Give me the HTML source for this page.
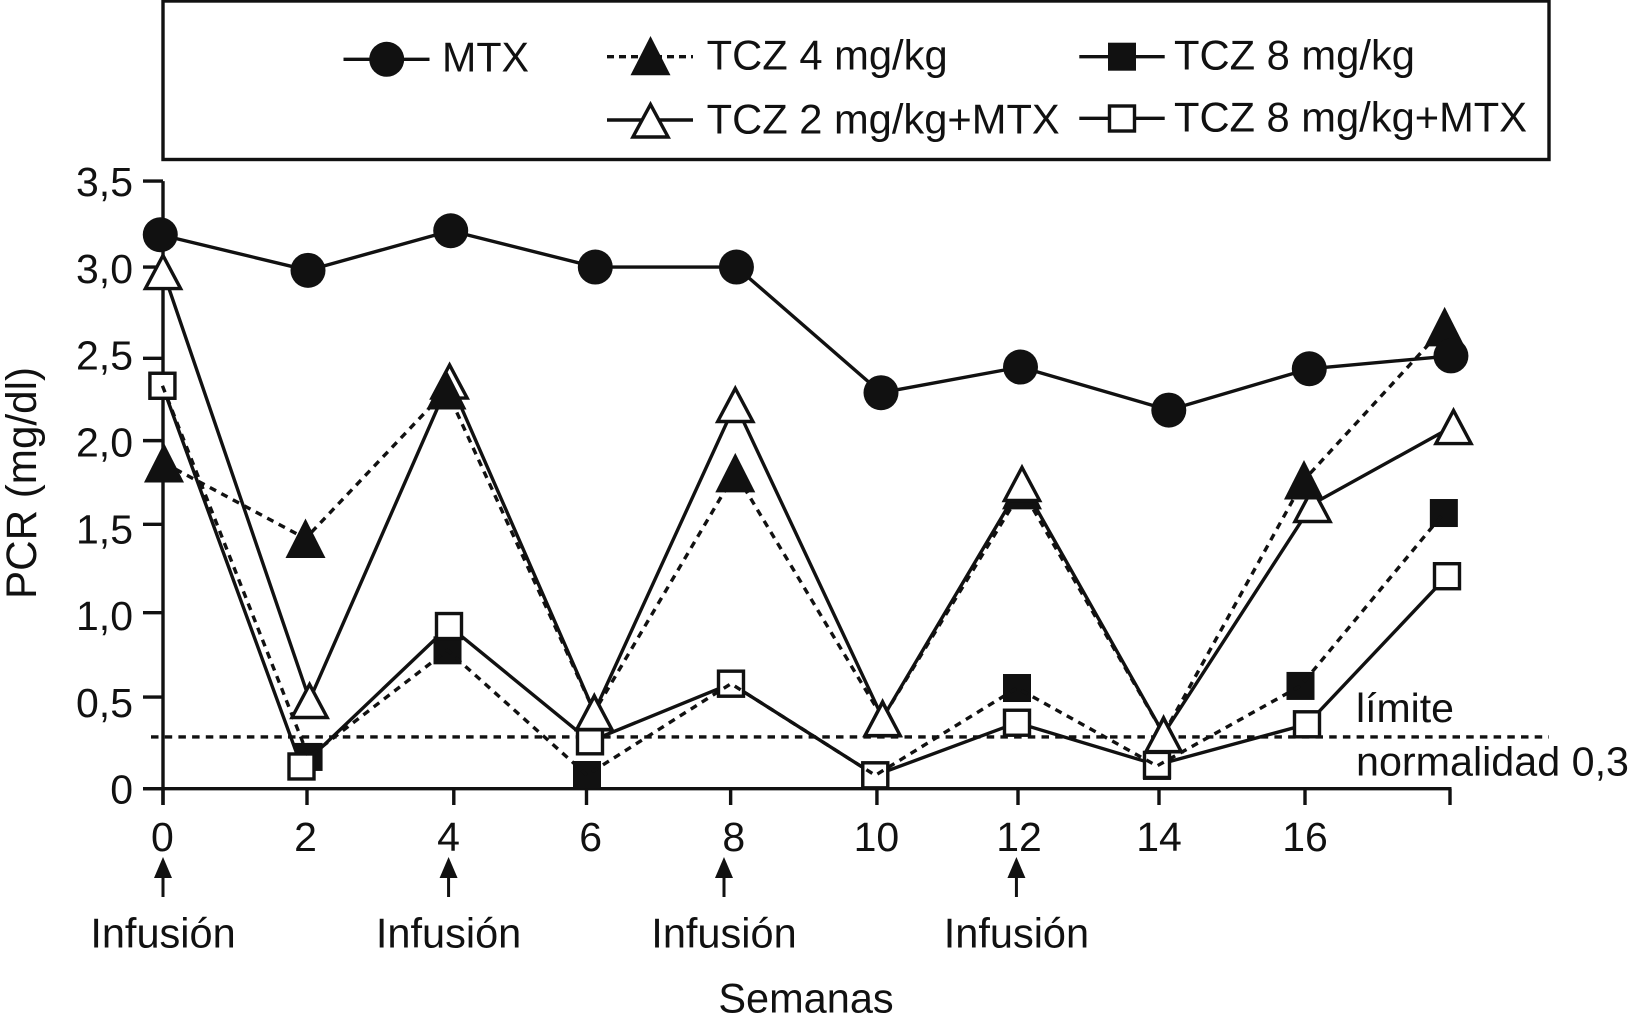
<!DOCTYPE html>
<html lang="es">
<head>
<meta charset="utf-8">
<title>PCR (mg/dl) por semanas</title>
<style>
html,body{margin:0;padding:0;background:#fff;width:1631px;height:1027px;overflow:hidden}
svg{display:block}
text{font-family:"Liberation Sans",Arial,sans-serif;fill:#111}
</style>
</head>
<body>
<svg id="chart" xmlns="http://www.w3.org/2000/svg" width="1631" height="1027" viewBox="0 0 1631 1027">
  <rect width="1631" height="1027" fill="#fff"/>
  <g>
    <rect x="163" y="1" width="1386" height="158.5" fill="#fff" stroke="#111" stroke-width="3.4"/>
    <g>
      <line x1="343.5" y1="59.3" x2="429.5" y2="59.3" stroke="#111" stroke-width="3.4"/>
      <circle cx="386.7" cy="59.3" r="17.5" fill="#111"/>
      <text x="442" y="71.7" font-size="41.5" textLength="87" lengthAdjust="spacingAndGlyphs">MTX</text>
    </g>
    <g>
      <line x1="607" y1="56.7" x2="693" y2="56.7" stroke="#111" stroke-width="3.4" stroke-dasharray="7 5"/>
      <polygon points="650.5,36 670.5,75.3 630.5,75.3" fill="#111"/>
      <text x="706.7" y="69.3" font-size="41.5" textLength="241" lengthAdjust="spacingAndGlyphs">TCZ 4 mg/kg</text>
    </g>
    <g>
      <line x1="1079.3" y1="56.7" x2="1164.7" y2="56.7" stroke="#111" stroke-width="3.4"/>
      <rect x="1108" y="42.7" width="28" height="28" fill="#111"/>
      <text x="1174" y="69.3" font-size="41.5" textLength="241" lengthAdjust="spacingAndGlyphs">TCZ 8 mg/kg</text>
    </g>
    <g>
      <line x1="607" y1="120" x2="693" y2="120" stroke="#111" stroke-width="3.4"/>
      <polygon points="650.5,104.4 668.1,137 632.9,137" fill="#fff" stroke="#111" stroke-width="3.4"/>
      <text x="706.7" y="133.3" font-size="41.5" textLength="353" lengthAdjust="spacingAndGlyphs">TCZ 2 mg/kg+MTX</text>
    </g>
    <g>
      <line x1="1079.3" y1="118.3" x2="1164.7" y2="118.3" stroke="#111" stroke-width="3.4"/>
      <rect x="1109.5" y="106" width="25" height="25" fill="#fff" stroke="#111" stroke-width="3.4"/>
      <text x="1174" y="131.7" font-size="41.5" textLength="353" lengthAdjust="spacingAndGlyphs">TCZ 8 mg/kg+MTX</text>
    </g>
  </g>
  <text transform="translate(36 599) rotate(-90)" font-size="43" textLength="232" lengthAdjust="spacingAndGlyphs">PCR (mg/dl)</text>
  <text x="806" y="1012.5" font-size="41.5" text-anchor="middle">Semanas</text>
  <text x="1356" y="722" font-size="41" textLength="98" lengthAdjust="spacingAndGlyphs">límite</text>
  <text x="1356" y="775.3" font-size="41" textLength="273" lengthAdjust="spacingAndGlyphs">normalidad 0,3</text>
  <g id="plot"></g>
</svg>
<script>
const yTickValues = [0, 0.528, 1.014, 1.523, 2.005, 2.479, 3.005, 3.5];
const yLabelValues = [0, 0.5, 1, 1.5, 2, 2.5, 3, 3.5];
const yTickLabels = ['0', '0,5', '1,0', '1,5', '2,0', '2,5', '3,0', '3,5'];
const xTickValues = [0, 2.014, 4.067, 5.923, 7.939, 9.985, 11.958, 13.93, 15.972, 18];
const xLabelValues = [-0.008, 1.993, 3.994, 5.981, 7.983, 9.978, 11.972, 13.93, 15.972];
const xTickLabels = ['0', '2', '4', '6', '8', '10', '12', '14', '16'];
const infusionWeeks = [0, 3.994, 7.846, 11.936];
const limitValue = 0.298;

const mtxWeeks = [-0.038, 2.028, 4.024, 6.046, 8.02, 10.042, 11.993, 14.067, 16.032, 18.013];
const mtxValues = [3.191, 2.986, 3.214, 3.005, 3.005, 2.281, 2.429, 2.181, 2.419, 2.493];

const tcz4Weeks = [0.014, 1.993, 3.965, 6.032, 8.004, 10.064, 12.014, 13.994, 15.958, 17.925];
const tcz4Values = [1.876, 1.441, 2.297, 0.442, 1.819, 0.407, 1.721, 0.315, 1.778, 2.66];
const tcz4OnTopIndexes = [2, 8];

const tcz2MtxWeeks = [0, 2.05, 4.008, 6.032, 8.004, 10.064, 12.014, 13.994, 16.077, 18.049];
const tcz2MtxValues = [2.982, 0.511, 2.351, 0.442, 2.216, 0.407, 1.761, 0.315, 1.64, 2.089];

const tcz8Weeks = [-0.008, 2.036, 3.979, 5.93, 7.944, 9.962, 11.944, 13.902, 15.909, 17.914];
const tcz8Values = [2.321, 0.183, 0.797, 0.079, 0.605, 0.077, 0.58, 0.131, 0.592, 1.588];

const tcz8MtxWeeks = [-0.008, 1.937, 4, 5.972, 7.944, 9.962, 11.944, 13.902, 16, 17.958];
const tcz8MtxValues = [2.321, 0.128, 0.937, 0.273, 0.605, 0.077, 0.38, 0.137, 0.371, 1.224];

const INK = '#111';
const STROKE = 3.4;
const plot = document.getElementById('plot');
const SVG_NS = 'http://www.w3.org/2000/svg';
function xScale(week) { return 163 + 71.5 * week; }
function yScale(value) { return 788.7 - 173.6 * value; }
function make(tag, attrs) {
  const el = document.createElementNS(SVG_NS, tag);
  for (const key in attrs) { el.setAttribute(key, attrs[key]); }
  plot.appendChild(el);
  return el;
}
function linePoints(weeks, values) {
  return weeks.map(function (w, i) { return xScale(w) + ',' + yScale(values[i]); }).join(' ');
}
function drawLine(name, weeks, values, dashed) {
  const attrs = { points: linePoints(weeks, values), fill: 'none', stroke: INK, 'stroke-width': STROKE };
  if (dashed) { attrs['stroke-dasharray'] = '7 6'; }
  const el = make('polyline', attrs);
  
  
}
function filledSquare(week, value) {
  const el = make('rect', { x: xScale(week) - 14, y: yScale(value) - 14, width: 28, height: 28, fill: INK });
  
  
}
function openSquare(week, value) {
  const el = make('rect', { x: xScale(week) - 12.5, y: yScale(value) - 12.5, width: 25, height: 25, fill: '#fff', stroke: INK, 'stroke-width': STROKE });
  
  
}
function filledTriangle(week, value) {
  const cx = xScale(week), cy = yScale(value);
  const el = make('polygon', { points: cx + ',' + (cy - 20) + ' ' + (cx + 20) + ',' + (cy + 19.5) + ' ' + (cx - 20) + ',' + (cy + 19.5), fill: INK });
  
  
}
function openTriangle(week, value) {
  const cx = xScale(week), cy = yScale(value);
  const el = make('polygon', { points: cx + ',' + (cy - 15.6) + ' ' + (cx + 17.6) + ',' + (cy + 17.5) + ' ' + (cx - 17.6) + ',' + (cy + 17.5), fill: '#fff', stroke: INK, 'stroke-width': STROKE });
  
  
}
function circlePoint(week, value) {
  const el = make('circle', { cx: xScale(week), cy: yScale(value), r: 17.5, fill: INK });
  
  
}

/* axes */
const yAxis = make('line', { x1: xScale(0), y1: yScale(3.5), x2: xScale(0), y2: 805, stroke: INK, 'stroke-width': STROKE });


const xAxis = make('line', { x1: 143, y1: yScale(0), x2: xScale(18) + 1.5, y2: yScale(0), stroke: INK, 'stroke-width': STROKE });



yTickValues.forEach(function (v) {
  const tick = make('line', { x1: 143, y1: yScale(v), x2: xScale(0), y2: yScale(v), stroke: INK, 'stroke-width': STROKE });
  
  
});
yLabelValues.forEach(function (v, i) {
  const label = make('text', { x: 133, y: yScale(v) + 15, 'font-size': 41, 'text-anchor': 'end' });
  label.textContent = yTickLabels[i];
  
  
});
xTickValues.forEach(function (w) {
  const tick = make('line', { x1: xScale(w), y1: yScale(0), x2: xScale(w), y2: 805, stroke: INK, 'stroke-width': STROKE });
  
  
});
xLabelValues.forEach(function (w, i) {
  const label = make('text', { x: xScale(w), y: 851, 'font-size': 41, 'text-anchor': 'middle' });
  label.textContent = xTickLabels[i];
  
  
});

/* infusion arrows and labels */
infusionWeeks.forEach(function (w) {
  const cx = xScale(w);
  const shaft = make('line', { x1: cx, y1: 875, x2: cx, y2: 897, stroke: INK, 'stroke-width': 3 });
  
  
  const head = make('polygon', { points: cx + ',857 ' + (cx + 9) + ',878 ' + (cx - 9) + ',878', fill: INK });
  
  
  const label = make('text', { x: cx, y: 947.7, 'font-size': 41.5, 'text-anchor': 'middle' });
  label.textContent = 'Infusión';
  
  
});

/* normal limit */
const limitLine = make('line', { x1: 151, y1: yScale(limitValue), x2: 1549, y2: yScale(limitValue), stroke: INK, 'stroke-width': STROKE, 'stroke-dasharray': '7.5 6.2' });



/* series */
drawLine('mtx-line', mtxWeeks, mtxValues, false);
drawLine('tcz-2-mtx-line', tcz2MtxWeeks, tcz2MtxValues, false);
drawLine('tcz-8-mtx-line', tcz8MtxWeeks, tcz8MtxValues, false);
drawLine('tcz-4-line', tcz4Weeks, tcz4Values, true);
tcz8Weeks.forEach(function (w, i) { filledSquare(w, tcz8Values[i]); });
tcz8MtxWeeks.forEach(function (w, i) { openSquare(w, tcz8MtxValues[i]); });
drawLine('tcz-8-line', tcz8Weeks, tcz8Values, true);
tcz4Weeks.forEach(function (w, i) {
  if (tcz4OnTopIndexes.indexOf(i) < 0) { filledTriangle(w, tcz4Values[i]); }
});
tcz2MtxWeeks.forEach(function (w, i) { openTriangle(w, tcz2MtxValues[i]); });
tcz4OnTopIndexes.forEach(function (i) { filledTriangle(tcz4Weeks[i], tcz4Values[i]); });
mtxWeeks.forEach(function (w, i) { circlePoint(w, mtxValues[i]); });
</script>
</body>
</html>
